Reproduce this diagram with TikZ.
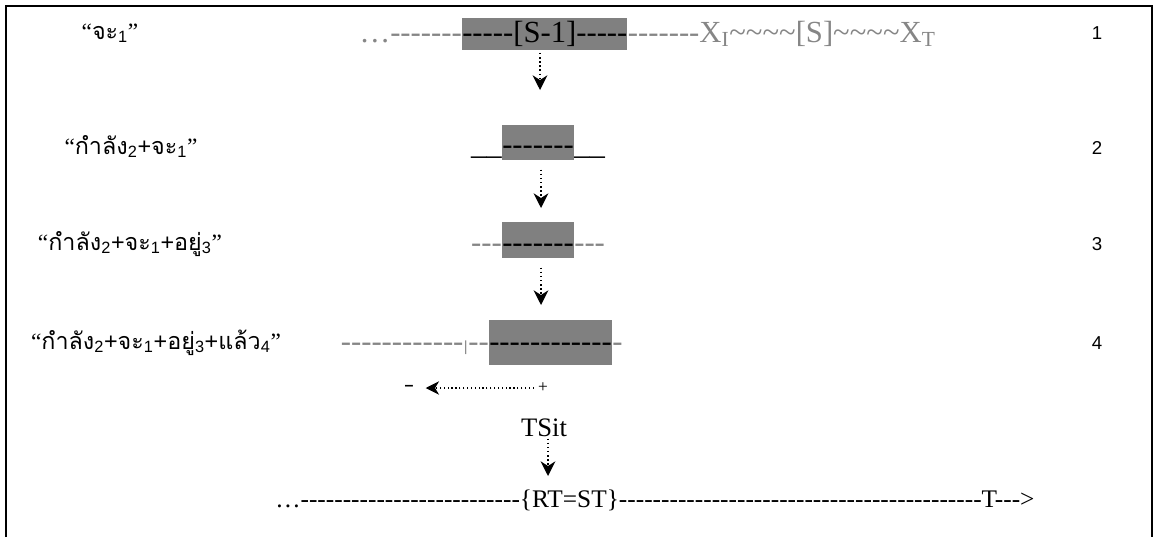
\documentclass[tikz,border=0pt]{standalone}
\usepackage{fontspec}
\setmainfont{Liberation Serif}
\setsansfont{Liberation Sans}
\newfontfamily\thaifont[Script=Thai]{Loma}
\newfontfamily\dashfont[Ligatures=TeXOff]{Liberation Serif}
\usepackage{tikz}
\usetikzlibrary{
  arrows.meta,
  calc,
  positioning
}
\usepackage{xcolor}
\definecolor{boxgray}{RGB}{128,128,128}
\definecolor{txtgray}{RGB}{134,134,134}
\newcommand{\tld}{\textasciitilde}
\newcommand{\sub}[1]{\textsubscript{\sffamily #1}}
\newcommand{\qo}{{\rmfamily “}}
\newcommand{\qc}{{\rmfamily ”}}
\newcommand{\pl}{{\sffamily +}}
\tikzset{
  % Frame
  framestyle/.style = {line width=1.5pt, draw=black},
  % Text rows
  rowtxt/.style     = {font=\dashfont\fontsize{23}{23}\selectfont, inner sep=0pt},
  graytxt/.style    = {rowtxt, text=txtgray},
  hlbox/.style      = {rowtxt, fill=boxgray, text height=22pt, text depth=4.5pt},
  % Labels
  thailab/.style    = {font=\thaifont\fontsize{17.5}{17.5}\selectfont, inner sep=0pt, anchor=base},
  numlab/.style     = {font=\sffamily\fontsize{14}{14}\selectfont, inner sep=0pt, anchor=base},
  timetxt/.style    = {font=\dashfont\fontsize{19}{19}\selectfont, inner sep=0pt},
  % Arrows
  flowarrow/.style  = {dotted, line width=1.1pt, -{Stealth[length=11pt,width=11pt,inset=3.5pt]}},
  signarrow/.style  = {dotted, line width=0.9pt, -{Stealth[length=10pt,width=10pt,inset=3pt]}},
}
\begin{document}
\begin{tikzpicture}[x=0.75pt,y=-0.75pt]
  \useasboundingbox (0,0) rectangle (1155,537);
  % Frame
  \draw[framestyle] (6,537) -- (6,6) -- (1152,6) -- (1152,537);

  % Row 1
  \node[hlbox, text height=18pt, text depth=6pt, anchor=base west] (r1m) at (462,42) {-----[S-1]-----};
  \node[graytxt, anchor=base east] (r1l) at (r1m.base west) {…-------};
  \node[graytxt, anchor=base west] (r1r) at (r1m.base east)
    {-------X\textsubscript{I}\tld\tld\tld\tld[S]\tld\tld\tld\tld X\textsubscript{T}};
  \node[thailab] (lab1) at (110,39) {\qo จะ\sub{1}\qc};
  \node[numlab] (n1) at (1097,39) {1};

  % Row 2
  \node[hlbox, text height=21.75pt, anchor=base west] (r2m) at (502,154) {-------};
  \node[rowtxt, anchor=base east] (r2l) at (r2m.base west) {\_\_};
  \node[rowtxt, anchor=base west] (r2r) at (r2m.base east) {\_\_};
  \node[thailab] (lab2) at (131,154) {\qo กำลัง\sub{2}\pl จะ\sub{1}\qc};
  \node[numlab] (n2) at (1097,154) {2};

  % Row 3
  \node[hlbox, text height=22.5pt, anchor=base west] (r3m) at (502,252) {-------};
  \node[graytxt, anchor=base east] (r3l) at (r3m.base west) {---};
  \node[graytxt, anchor=base west] (r3r) at (r3m.base east) {---};
  \node[thailab] (lab3) at (130,250) {\qo กำลัง\sub{2}\pl จะ\sub{1}\pl อยู่\sub{3}\qc};
  \node[numlab] (n3) at (1097,250) {3};

  % Row 4
  \node[hlbox, text height=23.25pt, text depth=10.5pt, anchor=base west] (r4m) at (489,351) {------------};
  \node[graytxt, anchor=base east] (r4l2) at (r4m.base west) {--};
  \node[graytxt, font=\sffamily\fontsize{11}{11}\selectfont, anchor=base east] (r4tick) at (r4l2.base west) {|};
  \node[graytxt, anchor=base east] (r4l) at (r4tick.base west) {------------};
  \node[graytxt, anchor=base west] (r4r) at (r4m.base east) {-};
  \node[thailab] (lab4) at (156,349) {\qo กำลัง\sub{2}\pl จะ\sub{1}\pl อยู่\sub{3}\pl แล้ว\sub{4}\qc};
  \node[numlab] (n4) at (1097,349) {4};

  % Arrows between rows
  \coordinate (a1e) at (540,90);
  \coordinate (a2e) at (541,208);
  \coordinate (a3e) at (541,305);
  \draw[flowarrow, shorten <=2pt] (r1m.south -| a1e) -- (a1e);
  \draw[flowarrow, shorten <=7pt] (r2m.south -| a2e) -- (a2e);
  \draw[flowarrow, shorten <=7pt] (r3m.south -| a3e) -- (a3e);

  % Direction
  \node[font=\rmfamily\fontsize{13}{13}\selectfont, inner sep=1pt] (plus) at (543,388) {+};
  \node[font=\sffamily\bfseries\fontsize{12}{12}\selectfont, inner sep=1pt] (minus) at (409,388) {–};
  \draw[signarrow, shorten <=2pt, shorten >=8pt] (plus) -- (minus);

  % TSit
  \node[timetxt, font=\dashfont\fontsize{20}{20}\selectfont] (tsit) at (544,428) {TSit};
  \coordinate (a4e) at (548,476);
  \draw[flowarrow, shorten <=1pt] (tsit.south -| a4e) -- (a4e);

  % Time line
  \node[timetxt, anchor=base west] (timeline) at (275,507)
    {…--------------------------\{RT=ST\}-------------------------------------------T--->};
\end{tikzpicture}
\end{document}
